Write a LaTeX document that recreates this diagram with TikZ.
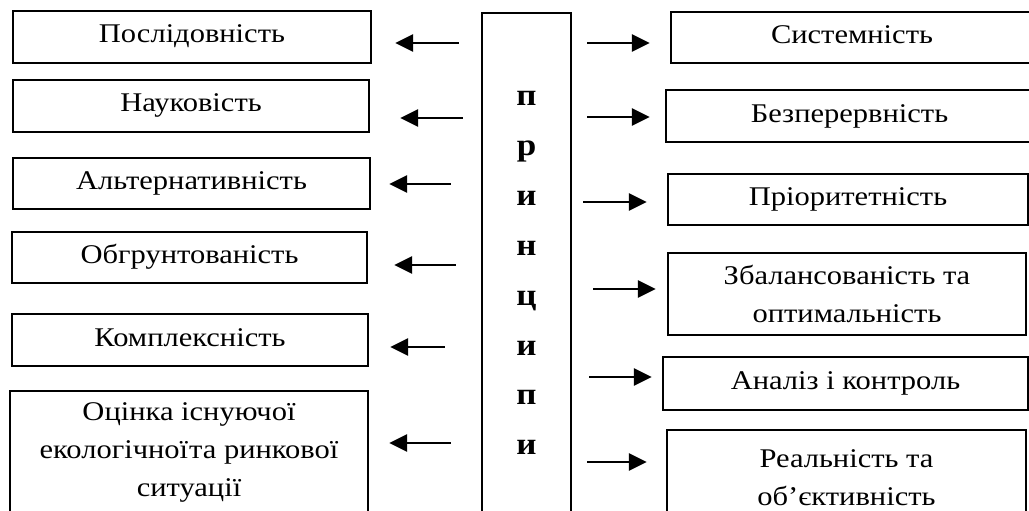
\documentclass[tikz,border=0pt]{standalone}
\usepackage{fontspec}
\setmainfont[FakeStretch=1.13]{Liberation Serif}
\usetikzlibrary{arrows.meta,calc}
\begin{document}
\begin{tikzpicture}[x=1pt,y=-1pt,
  box/.style={draw, line width=2.4pt, rectangle, inner sep=0pt,
    font=\fontsize{27}{38}\selectfont},
  onebox/.style={box, text height=18pt, text depth=6pt},
  twobox/.style={box, align=center},
  letter/.style={font=\fontsize{31}{31}\selectfont\bfseries, inner sep=0pt, anchor=base},
  arr/.style={line width=2.8pt, -{Triangle[length=18pt,width=17pt]}}]
\useasboundingbox (0,0) rectangle (1029,511);
\clip (0,0) rectangle (1029,511);

% left column
\node[onebox, minimum width=358pt, minimum height=52pt] (L1) at (192,37) {Послідовність};
\node[onebox, minimum width=356pt, minimum height=52pt] (L2) at (191,106) {Науковість};
\node[onebox, minimum width=357pt, minimum height=51pt] (L3) at (191.5,183.5) {Альтернативність};
\node[onebox, minimum width=355pt, minimum height=51pt] (L4) at (189.5,257.5) {Обгрунтованість};
\node[onebox, minimum width=356pt, minimum height=52pt] (L5) at (190,340) {Комплексність};
\node[twobox, minimum width=358pt, minimum height=123pt] (L6) at (189,452.5)
  {Оцінка існуючої\\екологічної\kern1ptта ринкової\\ситуації};

% central column
\node[box, minimum width=89pt, minimum height=517pt] (P) at (526.5,271.5) {};
\foreach \ch [count=\i from 0] in {п,р,и,н,ц,и,п,и}
  \node[letter] (ch\i) at (526.5,{106+49.8*\i}) {\ch};

% right column
\node[onebox, minimum width=362pt, minimum height=51pt] (R1) at (852,37.5) {Системність};
\node[onebox, minimum width=367pt, minimum height=52pt] (R2) at (849.5,116) {Безперервність};
\node[onebox, minimum width=360pt, minimum height=51pt] (R3) at (848,199.5) {Пріоритетність};
\node[twobox, minimum width=358pt, minimum height=82pt] (R4) at (847,294)
  {Збалансованість та\\оптимальність};
\node[onebox, minimum width=365pt, minimum height=53pt] (R5) at (845.5,383.5) {Аналіз і контроль};
\node[twobox, minimum width=359pt, minimum height=96pt] (R6) at (846.5,478)
  {Реальність та\\об’єктивність};

% arrows to the left
\draw[arr] ($(P.west |- 0,43)+(-22,0)$) -- ($(L1.east |- 0,43)+(23,0)$);
\draw[arr] ($(P.west |- 0,118)+(-18,0)$) -- ($(L2.east |- 0,118)+(30,0)$);
\draw[arr] ($(P.west |- 0,184)+(-30,0)$) -- ($(L3.east |- 0,184)+(18,0)$);
\draw[arr] ($(P.west |- 0,265)+(-25,0)$) -- ($(L4.east |- 0,265)+(26,0)$);
\draw[arr] ($(P.west |- 0,347)+(-36,0)$) -- ($(L5.east |- 0,347)+(21,0)$);
\draw[arr] ($(P.west |- 0,443)+(-30,0)$) -- ($(L6.east |- 0,443)+(20,0)$);

% arrows to the right
\draw[arr] ($(P.east |- 0,43)+(15,0)$) -- ($(R1.west |- 0,43)+(-20,0)$);
\draw[arr] ($(P.east |- 0,117)+(15,0)$) -- ($(R2.west |- 0,117)+(-15,0)$);
\draw[arr] ($(P.east |- 0,202)+(11,0)$) -- ($(R3.west |- 0,202)+(-20,0)$);
\draw[arr] ($(P.east |- 0,289)+(21,0)$) -- ($(R4.west |- 0,289)+(-11,0)$);
\draw[arr] ($(P.east |- 0,377)+(17,0)$) -- ($(R5.west |- 0,377)+(-10,0)$);
\draw[arr] ($(P.east |- 0,462)+(15,0)$) -- ($(R6.west |- 0,462)+(-19,0)$);
\end{tikzpicture}
\end{document}
